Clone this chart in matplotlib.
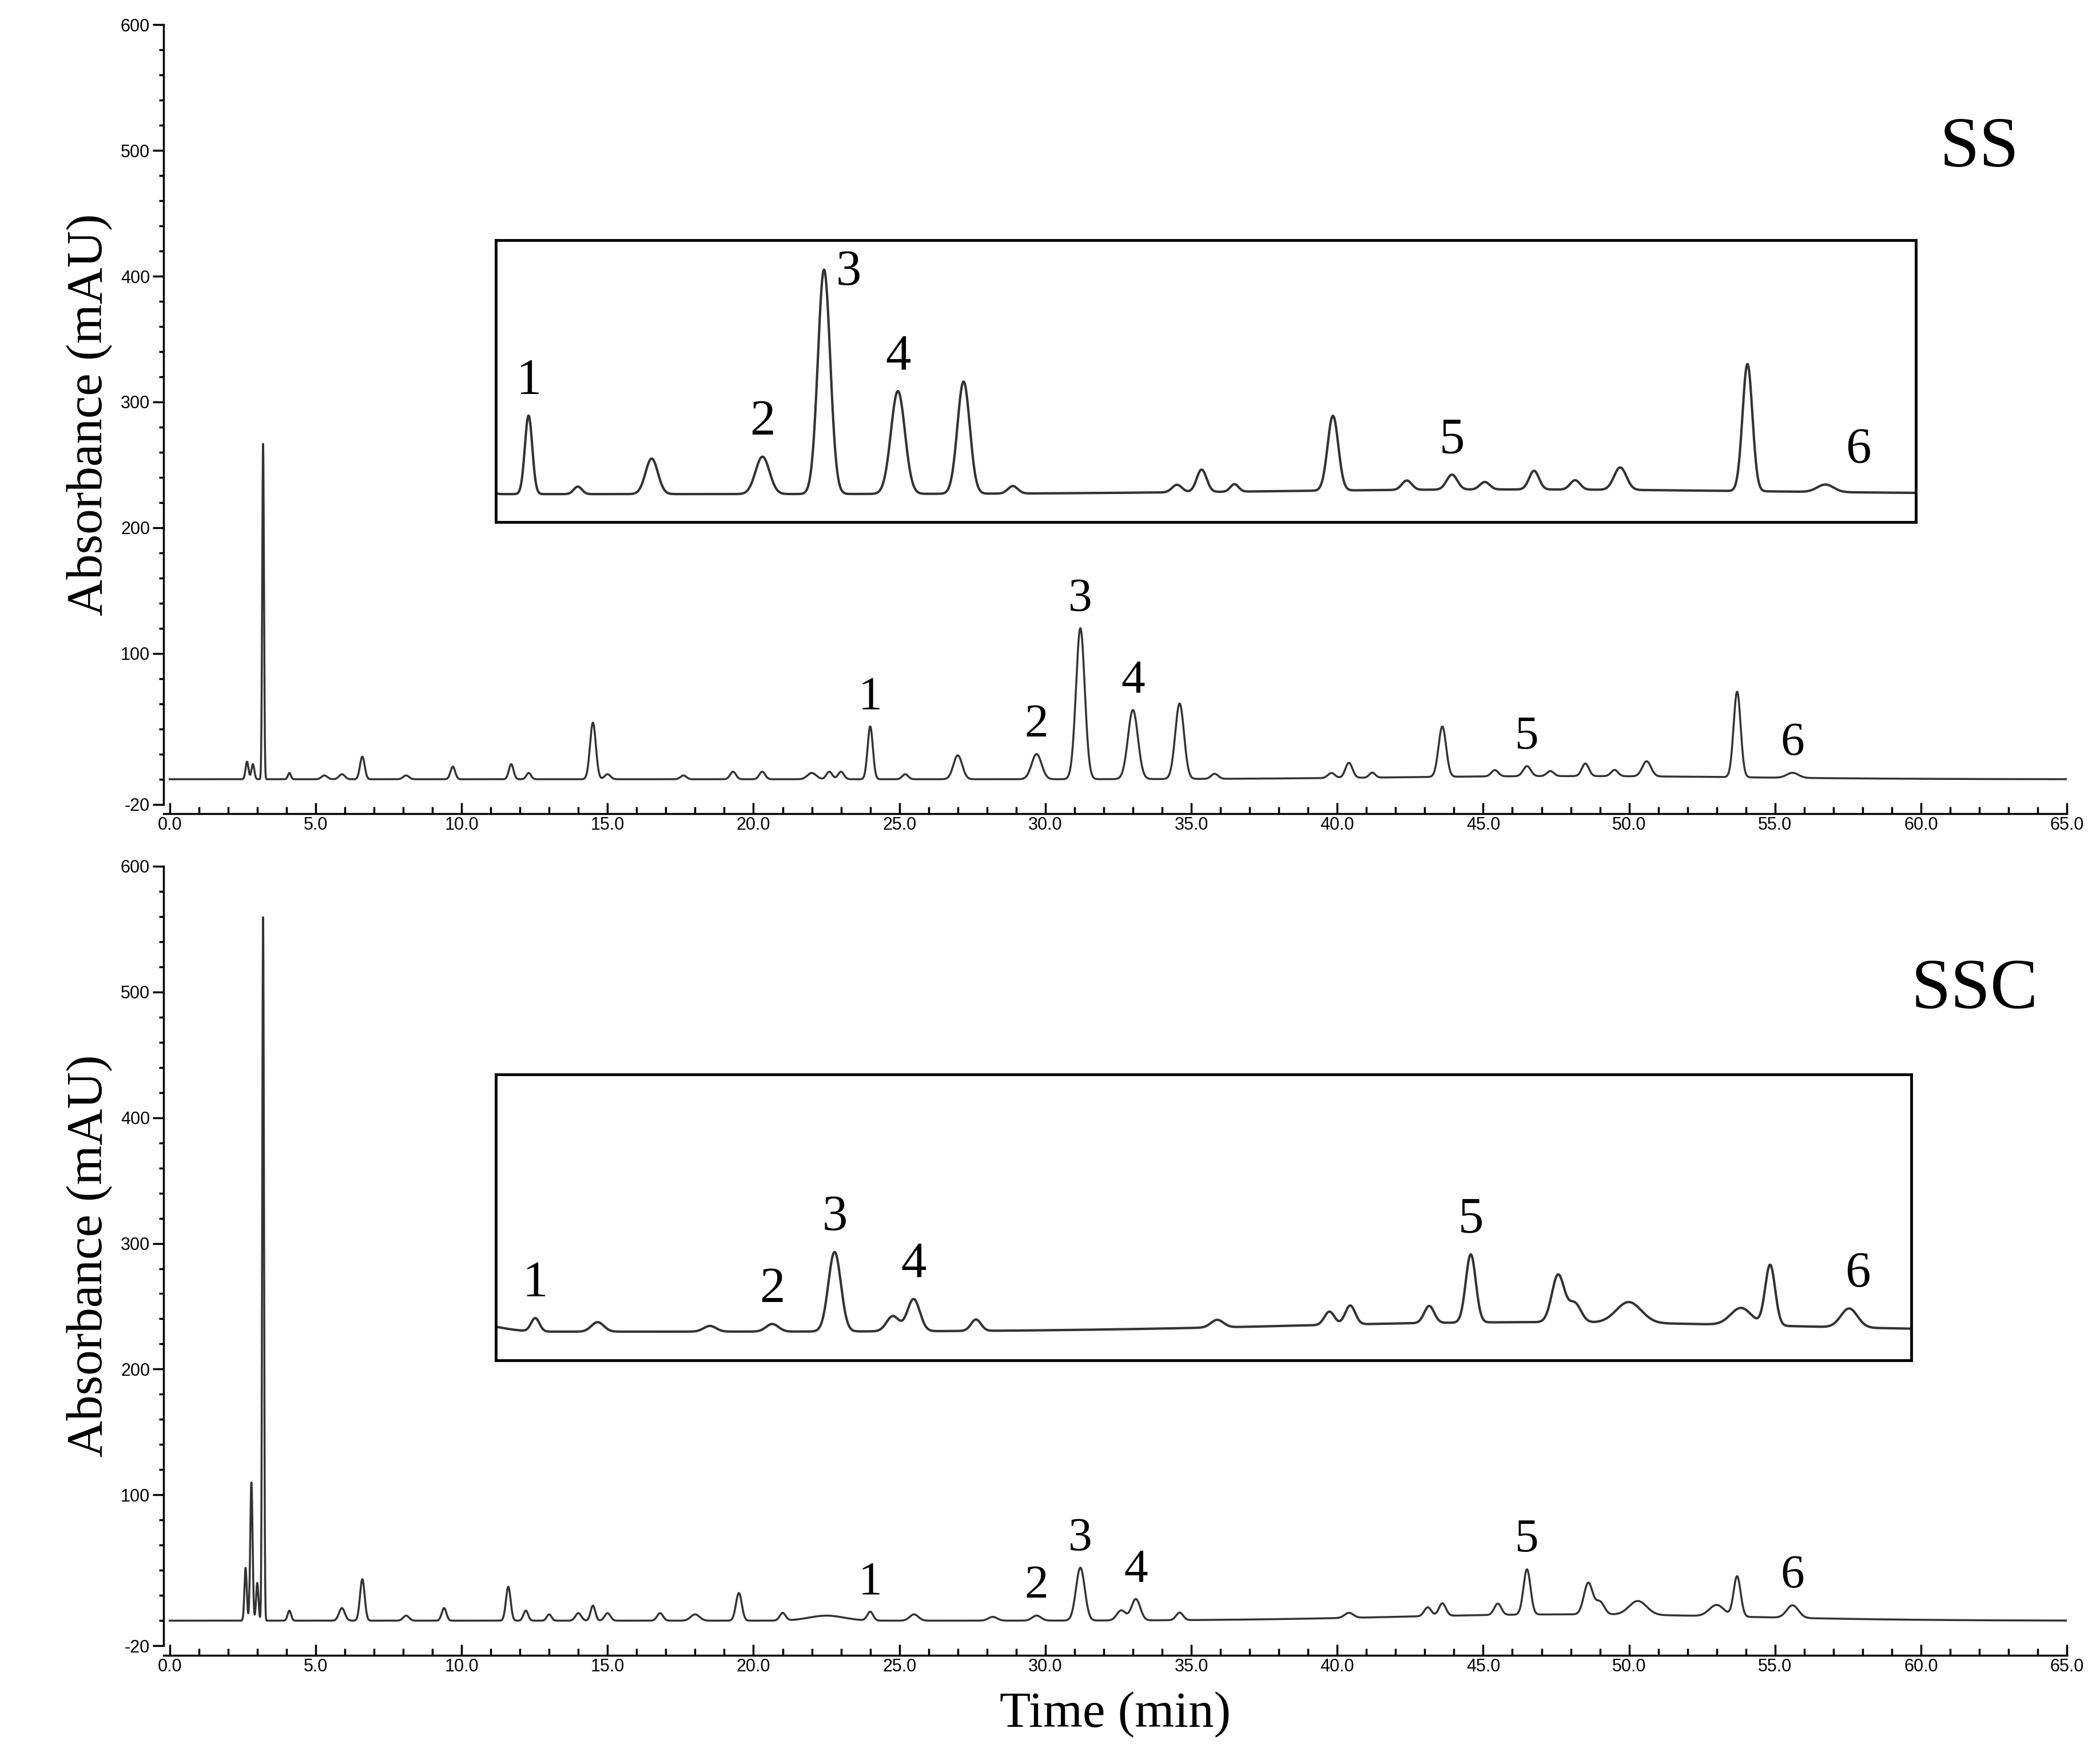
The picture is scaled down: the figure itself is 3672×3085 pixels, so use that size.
import numpy as np
import matplotlib
matplotlib.use("Agg")
import matplotlib.pyplot as plt
from matplotlib.ticker import MultipleLocator, FixedLocator

# Peak tables (retention time min, height mAU, sigma min)
ss_times = [2.65, 2.85, 3.2, 4.1, 5.3, 5.9, 6.6, 8.1, 9.7, 11.7, 12.3, 14.5, 15.0, 17.6, 19.3, 20.3,
            22.0, 22.6, 23.0, 24.0, 25.2, 27.0, 29.7, 31.2, 33.0, 34.6, 35.8, 39.8, 40.4, 41.2, 43.6,
            45.4, 46.5, 47.3, 48.5, 49.5, 50.6, 53.7, 55.6]
ss_heights = [14, 12, 267, 5, 3, 4, 18, 3, 10, 12, 5, 45, 4, 3, 6, 6,
              5, 6, 6, 42, 4, 19, 20, 120, 55, 60, 4, 4, 12, 4, 40,
              5, 8, 4, 10, 5, 12, 68, 4]
ss_widths = [0.05, 0.05, 0.03, 0.05, 0.1, 0.1, 0.08, 0.1, 0.08, 0.08, 0.08, 0.1, 0.1, 0.1, 0.1, 0.1,
             0.15, 0.1, 0.1, 0.09, 0.1, 0.15, 0.17, 0.15, 0.17, 0.15, 0.12, 0.12, 0.12, 0.1, 0.13,
             0.12, 0.13, 0.12, 0.12, 0.12, 0.15, 0.12, 0.2]

ssc_times = [2.6, 2.8, 3.0, 3.2, 4.1, 5.9, 6.6, 8.1, 9.4, 11.6, 12.2, 13.0, 14.0, 14.5, 15.0, 16.8,
             18.0, 19.5, 21.0, 22.5, 24.0, 25.5, 28.2, 29.7, 31.2, 32.6, 33.1, 34.6, 40.4, 43.1,
             43.6, 45.5, 46.5, 48.6, 49.0, 50.3, 53.0, 53.7, 55.6]
ssc_heights = [42, 110, 30, 560, 8, 10, 33, 4, 10, 27, 8, 5, 6, 12, 6, 6,
               5, 22, 6, 4, 7, 5, 3, 4, 42, 8, 17, 6, 4, 7,
               10, 9, 36, 25, 10, 11, 9, 32, 10]
ssc_widths = [0.04, 0.04, 0.04, 0.03, 0.06, 0.1, 0.08, 0.1, 0.08, 0.08, 0.08, 0.08, 0.1, 0.08, 0.1, 0.1,
              0.15, 0.1, 0.1, 0.6, 0.1, 0.15, 0.15, 0.15, 0.15, 0.15, 0.15, 0.12, 0.15, 0.12,
              0.12, 0.12, 0.12, 0.15, 0.15, 0.3, 0.25, 0.12, 0.2]

ss_labels = ["1", "2", "3", "4", "5", "6"]
ss_label_times = [24.0, 29.7, 31.2, 33.0, 46.5, 55.6]
ssc_label_times = [24.0, 29.7, 31.2, 33.1, 46.5, 55.6]

xticks = np.arange(0, 65.1, 5)
yticks = [-20, 100, 200, 300, 400, 500, 600]

t = np.linspace(0, 65, 20000)

def signal(times, heights, widths, drift):
    y = np.zeros_like(t)
    for c, h, w in zip(times, heights, widths):
        y += h * np.exp(-0.5 * ((t - c) / w) ** 2)
    y += drift * np.exp(-0.5 * ((t - 48) / 6) ** 2)
    return y

ss = signal(ss_times, ss_heights, ss_widths, 2.5)
ssc = signal(ssc_times, ssc_heights, ssc_widths, 5)

fig = plt.figure(figsize=(36.73, 30.85), dpi=100)
serif = "Liberation Serif"
sans = "Liberation Sans"

def style_main(ax):
    ax.set_xlim(-0.2, 65)
    ax.set_ylim(-20, 600)
    for s in ["top", "right"]:
        ax.spines[s].set_visible(False)
    ax.spines["left"].set_linewidth(2.5)
    ax.spines["bottom"].set_linewidth(2.5)
    ax.spines["bottom"].set_position(("outward", 12))
    ax.xaxis.set_major_locator(FixedLocator(xticks))
    ax.xaxis.set_minor_locator(MultipleLocator(1))
    ax.set_xticklabels([f"{v:.1f}" for v in xticks], fontfamily=sans, fontsize=22)
    ax.yaxis.set_major_locator(FixedLocator(yticks))
    ax.yaxis.set_minor_locator(FixedLocator([0, 20, 40, 60, 80] + list(range(120, 600, 20))))
    ax.set_yticklabels([str(v) for v in yticks], fontfamily=sans, fontsize=22)
    ax.tick_params(axis="x", which="both", direction="in", width=2.5)
    ax.tick_params(axis="x", which="major", length=14)
    ax.tick_params(axis="x", which="minor", length=9)
    ax.tick_params(axis="y", which="both", direction="out", width=2.5)
    ax.tick_params(axis="y", which="major", length=14)
    ax.tick_params(axis="y", which="minor", length=6)
    ax.set_ylabel("Absorbance (mAU)", fontfamily=serif, fontsize=64, labelpad=10)

def inset(rect, y, xlim, label_times, label_offsets):
    ia = fig.add_axes(rect)
    ia.plot(t, y, color="#333333", lw=3)
    ia.set_xlim(*xlim)
    ia.set_ylim(-15, 136)
    ia.set_xticks([]); ia.set_yticks([])
    for s in ia.spines.values():
        s.set_linewidth(3.5)
    for lab, lt, off in zip(ss_labels, label_times, label_offsets):
        h = np.interp(lt, t, y)
        ia.text(lt + off[0], h + off[1], lab, fontfamily=serif, fontsize=64, ha="center", va="bottom")

# Top panel
ax1 = fig.add_axes([0.078, 0.544, 0.906, 0.442])
ax1.plot(t, ss, color="#333333", lw=2.5)
style_main(ax1)
for lab, lt in zip(ss_labels, ss_label_times):
    h = np.interp(lt, t, ss)
    ax1.text(lt, h + 6, lab, fontfamily=serif, fontsize=60, ha="center", va="bottom")
ax1.text(0.975, 0.84, "SS", transform=ax1.transAxes, fontfamily=serif, fontsize=90, ha="right", va="center")
inset([0.236, 0.704, 0.676, 0.160], ss, (23.2, 57.8), ss_label_times,
      [(0, 6), (0, 6), (0.6, -14), (0, 6), (0, 6), (0.8, 6)])

# Bottom panel
ax2 = fig.add_axes([0.078, 0.067, 0.906, 0.442])
ax2.plot(t, ssc, color="#333333", lw=2.5)
style_main(ax2)
for lab, lt in zip(ss_labels, ssc_label_times):
    h = np.interp(lt, t, ssc)
    ax2.text(lt, h + 6, lab, fontfamily=serif, fontsize=60, ha="center", va="bottom")
ax2.text(0.985, 0.84, "SSC", transform=ax2.transAxes, fontfamily=serif, fontsize=90, ha="right", va="center")
ax2.set_xlabel("Time (min)", fontfamily=serif, fontsize=64, labelpad=20)
inset([0.236, 0.229, 0.674, 0.162], ssc, (23.05, 57.1), ssc_label_times,
      [(0, 6), (0, 6), (0, 6), (0, 6), (0, 6), (0.2, 6)])

fig.savefig("out.png", dpi=100)
